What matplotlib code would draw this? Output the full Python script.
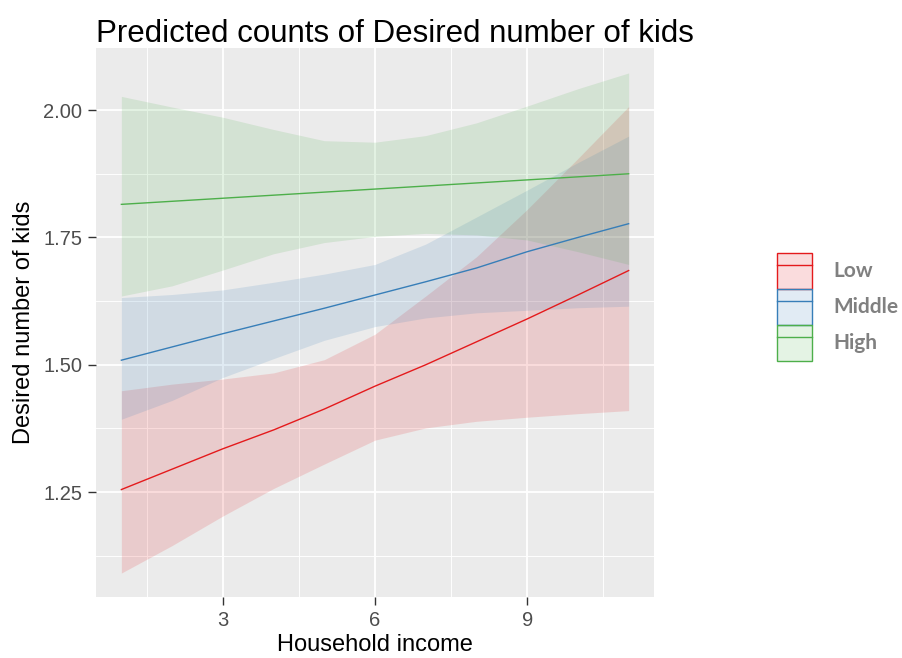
import matplotlib
matplotlib.use("Agg")
import matplotlib.pyplot as plt
from matplotlib.patches import Patch
from matplotlib.lines import Line2D
from matplotlib.ticker import FixedLocator

# household income values along x
income = [1, 2, 3, 4, 5, 6, 7, 8, 9, 10, 11]

# predicted counts + 95% interval per group
low_fit = [1.255, 1.295, 1.335, 1.372, 1.413, 1.458, 1.500, 1.545, 1.590, 1.637, 1.685]
low_lo = [1.091, 1.145, 1.203, 1.257, 1.305, 1.352, 1.376, 1.389, 1.397, 1.404, 1.410]
low_hi = [1.449, 1.462, 1.472, 1.484, 1.510, 1.560, 1.635, 1.712, 1.805, 1.905, 2.007]

mid_fit = [1.509, 1.535, 1.561, 1.586, 1.611, 1.637, 1.663, 1.690, 1.722, 1.750, 1.777]
mid_lo = [1.393, 1.430, 1.475, 1.512, 1.548, 1.575, 1.592, 1.602, 1.607, 1.612, 1.615]
mid_hi = [1.632, 1.638, 1.647, 1.662, 1.678, 1.697, 1.737, 1.790, 1.843, 1.897, 1.949]

high_fit = [1.815, 1.821, 1.827, 1.833, 1.839, 1.845, 1.851, 1.857, 1.863, 1.869, 1.875]
high_lo = [1.635, 1.655, 1.686, 1.718, 1.740, 1.752, 1.758, 1.755, 1.745, 1.722, 1.697]
high_hi = [2.027, 2.006, 1.986, 1.962, 1.940, 1.937, 1.950, 1.975, 2.008, 2.042, 2.073]

groups = ["Low", "Middle", "High"]
colors = ["#E41A1C", "#377EB8", "#4DAF4A"]

plt.rcParams['font.family'] = ['Liberation Sans', 'DejaVu Sans']

fig = plt.figure(figsize=(9.02, 6.58), dpi=100)
ax = fig.add_axes([96/902, 61/658, 558/902, 549/658])
ax.set_facecolor("#EBEBEB")

series = [(low_fit, low_lo, low_hi), (mid_fit, mid_lo, mid_hi), (high_fit, high_lo, high_hi)]
for (fit, lo, hi), c in zip(series, colors):
    ax.fill_between(income, lo, hi, color=c, alpha=0.15, linewidth=0, zorder=2)
for (fit, lo, hi), c in zip(series, colors):
    ax.plot(income, fit, color=c, linewidth=1.0, zorder=3)

ax.set_xlim(0.5, 11.5)
ax.set_ylim(1.044, 2.122)
ax.xaxis.set_major_locator(FixedLocator([3, 6, 9]))
ax.xaxis.set_minor_locator(FixedLocator([1.5, 4.5, 7.5, 10.5]))
ax.yaxis.set_major_locator(FixedLocator([1.25, 1.5, 1.75, 2.0]))
ax.yaxis.set_minor_locator(FixedLocator([1.125, 1.375, 1.625, 1.875]))
ax.set_yticklabels(["1.25", "1.50", "1.75", "2.00"])
ax.grid(which="major", color="white", linewidth=1.3, zorder=1)
ax.grid(which="minor", color="white", linewidth=0.65, zorder=1)
ax.set_axisbelow(True)
for s in ax.spines.values():
    s.set_visible(False)
ax.tick_params(which="major", length=6, width=1, color="#333333",
               labelcolor="#4D4D4D", labelsize=14.5, pad=4)
ax.tick_params(which="minor", length=0)

ax.set_xlabel("Household income", fontsize=17, color="black", labelpad=3)
ax.set_ylabel("Desired number of kids", fontsize=17, color="black", labelpad=6)
fig.text(96/902, 1 - 42/658, "Predicted counts of Desired number of kids",
         fontsize=22.5, color="black", ha="left", va="baseline")

handles = [(Patch(facecolor=c, alpha=0.15, edgecolor="none"),
            Patch(facecolor="none", edgecolor=c, linewidth=1.0),
            Line2D([], [], color=c, linewidth=1.0)) for c in colors]
leg = fig.legend(handles, groups, loc="upper left",
                 bbox_to_anchor=(777/902, 1 - 253/658), frameon=False,
                 borderpad=0, borderaxespad=0, labelspacing=0,
                 handlelength=1.7, handleheight=2.28, handletextpad=1.0,
                 prop={"family": "Lato", "weight": "bold", "size": 15})
for t in leg.get_texts():
    t.set_color("#808080")

fig.savefig("out.png", dpi=100)
